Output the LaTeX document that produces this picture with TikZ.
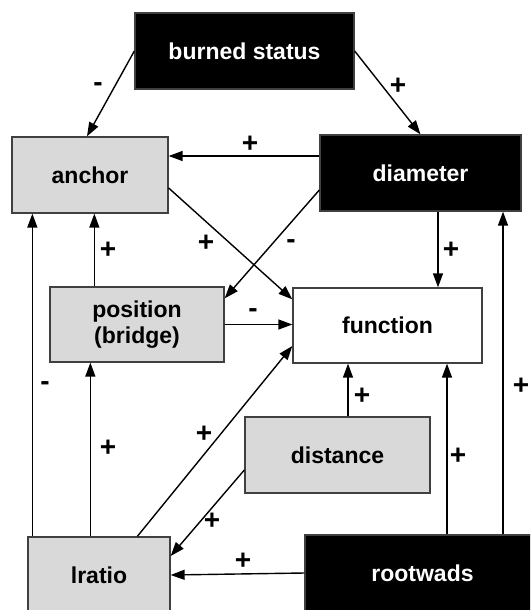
\documentclass[tikz,border=0pt]{standalone}
\usepackage{fontspec}
\setmainfont{Liberation Sans}
\usetikzlibrary{arrows.meta,calc}
\begin{document}
\begin{tikzpicture}[x=1pt,y=-1pt,
  box/.style={draw=black!75,line width=1.3pt,inner sep=0pt,font=\fontsize{23}{26}\selectfont\bfseries,align=center},
  darkbox/.style={box,fill=black,text=white},
  greybox/.style={box,fill=black!15},
  plainbox/.style={box,fill=white},
  arr/.style={-{Triangle[length=14pt,width=10pt]},line width=1.4pt},
  lbl/.style={font=\fontsize{28}{28}\selectfont\bfseries,inner sep=0pt}]
\useasboundingbox (0,0) rectangle (530,610);
\clip (0,0) rectangle (530,610);
\fill[white] (0,0) rectangle (530,610);
% nodes
\node[darkbox, minimum width=219pt, minimum height=76pt] (burned) at (244.5,51) {burned status};
\node[greybox, minimum width=156pt, minimum height=76pt] (anchor) at (90,175) {anchor};
\node[darkbox, minimum width=201pt, minimum height=76pt] (diameter) at (420.5,173) {diameter};
\node[greybox, minimum width=174pt, minimum height=75pt] (position) at (137,324.5) {position\\(bridge)};
\node[plainbox, minimum width=189pt, minimum height=75pt] (function) at (387.5,325.5) {function};
\node[greybox, minimum width=185pt, minimum height=76pt] (distance) at (337.5,455) {distance};
\node[greybox, minimum width=142pt, minimum height=76pt] (lratio) at (99,575) {lratio};
\node[darkbox, minimum width=235pt, minimum height=76pt] (rootwads) at (422.5,573) {rootwads};
% connectors
\draw[arr] (burned.west) -- ([xshift=-3pt]anchor.north);
\draw[arr] (burned.east) -- (diameter.north);
\draw[arr] ([yshift=17pt]diameter.west) coordinate (d3) -- (anchor.east |- d3);
\draw[arr] ([yshift=-13pt]anchor.east) -- ([yshift=-12pt]function.north west);
\draw[arr] ([yshift=-17pt]diameter.west) -- ([yshift=-12pt]position.north east);
\draw[arr] ([xshift=50.5pt]function.north |- diameter.south) -- ([xshift=50.5pt]function.north);
\draw[arr] ([xshift=45pt]position.north west) coordinate (p7) -- (p7 |- anchor.south);
\draw[arr] ([xshift=5pt]lratio.north west) coordinate (l8) -- (l8 |- anchor.south);
\draw[arr] (position.east) -- (function.west |- position.east);
\draw[arr] ([xshift=63pt]lratio.north west) coordinate (l10) -- (l10 |- position.south);
\draw[arr] ([xshift=110pt]lratio.north west) -- ([yshift=-20.5pt]function.west);
\draw[arr] ([xshift=10.5pt]distance.north) coordinate (d12) -- (d12 |- function.south);
\draw[arr] ([yshift=-15pt]distance.west) -- ([yshift=19pt]lratio.east);
\draw[arr] ([xshift=59.5pt]function.south |- rootwads.north) coordinate (r14) -- (r14 |- function.south);
\draw[arr] ([xshift=82.5pt]diameter.south |- rootwads.north) coordinate (r15) -- (r15 |- diameter.south);
\draw[arr] (rootwads.west) -- (lratio.east);
% labels
\node[lbl] (s1) at (98,87) {-};
\node[lbl] (s2) at (398,86) {+};
\node[lbl] (s3) at (250,144) {+};
\node[lbl] (s4) at (206,243) {+};
\node[lbl] (s5) at (291,244) {-};
\node[lbl] (s6) at (451,250) {+};
\node[lbl] (s7) at (108,250) {+};
\node[lbl] (s8) at (253,313) {-};
\node[lbl] (s9) at (45,386) {-};
\node[lbl] (s10) at (521,386) {+};
\node[lbl] (s11) at (108,448) {+};
\node[lbl] (s12) at (204,434) {+};
\node[lbl] (s13) at (362,396) {+};
\node[lbl] (s14) at (458,456) {+};
\node[lbl] (s15) at (212,521) {+};
\node[lbl] (s16) at (243,561) {+};
\end{tikzpicture}
\end{document}
